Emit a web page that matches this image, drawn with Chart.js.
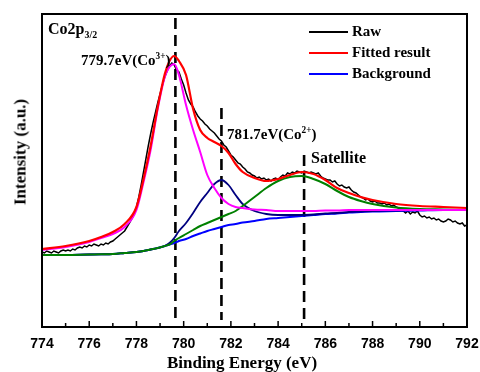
<!DOCTYPE html>
<html>
<head>
<meta charset="utf-8">
<script src="https://cdn.jsdelivr.net/npm/chart.js@4.4.1/dist/chart.umd.min.js"></script>
<style>
  body { margin: 0; background: #fff; }
  #wrap { position: relative; width: 480px; height: 372px; }
  .lbl { position: absolute; font-family: "Liberation Serif", "Times New Roman", serif; font-weight: bold; color: #000; white-space: nowrap; line-height: 1; }
  .lbl sup, .lbl sub { font-size: 62%; line-height: 0; }
  .leg { position: absolute; width: 39px; height: 0; border-top: 2.5px solid; }
</style>
</head>
<body>
<div id="wrap">
  <canvas id="grafico" width="480" height="372"></canvas>

  <div class="lbl" style="left:48px; top:21px; font-size:16px;">Co2p<sub>3/2</sub></div>
  <div class="lbl" style="left:81px; top:53px; font-size:15px;">779.7eV(Co<sup>3+</sup>)</div>
  <div class="lbl" style="left:227px; top:127px; font-size:15px;">781.7eV(Co<sup>2+</sup>)</div>
  <div class="lbl" style="left:311px; top:150px; font-size:16px;">Satellite</div>

  <div class="leg" style="left:309px; top:31px; border-color:#000;"></div>
  <div class="leg" style="left:309px; top:52px; border-color:#ff0000;"></div>
  <div class="leg" style="left:309px; top:73px; border-color:#0000ff;"></div>
  <div class="lbl" style="left:352px; top:24px; font-size:15px;">Raw</div>
  <div class="lbl" style="left:352px; top:45px; font-size:15px;">Fitted result</div>
  <div class="lbl" style="left:352px; top:66px; font-size:15px;">Background</div>

  <div class="lbl" style="left:242px; top:354px; font-size:17px; transform:translateX(-50%);">Binding Energy (eV)</div>
  <div class="lbl" style="left:20px; top:152px; font-size:17px; transform:translate(-50%,-50%) rotate(-90deg);">Intensity (a.u.)</div>
</div>

<script>
// espectro bruto, passo de 0.1 eV a partir de 774 eV
const rawStart = 774;
const rawStep = 0.1;
const rawIntensity = [
  75, 74, 76, 75, 74, 76, 75, 74, 76, 77,
  76, 77, 76, 78, 77, 79, 80, 79, 81, 80,
  82, 81, 83, 82, 81, 83, 82, 84, 83, 85,
  86, 88, 90, 92, 94, 96, 100, 104, 108, 113,
  120, 130, 142, 155, 168, 181, 193, 204, 214, 224,
  233, 242, 250, 256, 261, 264, 262, 257, 255, 248,
  242, 234, 227, 223, 220, 215, 211, 208, 206, 203,
  201, 198, 196, 194, 191, 188, 186, 182, 180, 176,
  172, 170, 167, 164, 163, 160, 158, 155, 154, 152,
  151, 149, 150, 148, 149, 147, 148, 146, 148, 149,
  147, 150, 152, 151, 154, 153, 155, 154, 156, 155,
  154, 156, 155, 154, 155, 154, 153, 154, 151, 149,
  148, 147, 147, 145, 146, 143, 141, 142, 140, 139,
  140, 137, 135, 134, 132, 130, 129, 127, 128, 126,
  125, 126, 124, 124, 123, 124, 122, 123, 121, 122,
  120, 119, 117, 116, 114, 116, 113, 115, 114, 116,
  112, 110, 111, 109, 110, 108, 109, 107, 108, 106,
  105, 106, 108, 107, 105, 106, 104, 103, 104, 101,
  102
];

// curvas ajustadas
const fitEnergy = [774, 775, 776, 776.5, 777, 777.5, 778, 778.3, 778.6, 778.9,
  779.2, 779.4, 779.6, 779.8, 780.1, 780.4, 780.7, 781, 781.3, 781.6,
  781.9, 782.2, 782.5, 783, 783.5, 784, 784.5, 785, 785.5, 786,
  786.5, 787, 787.5, 788, 789, 790, 791, 792];
const fitted = [78, 81, 86, 90, 95, 103, 120, 148, 181, 220,
  253, 266, 271, 266, 252, 218, 197, 189, 185, 181,
  174, 163, 155, 149, 146, 148, 152, 155, 153, 147,
  139, 134, 130, 127, 123, 121, 120, 119];
const co3Peak = [77, 80, 85, 89, 93, 100, 117, 145, 177, 218,
  250, 260, 263, 252, 222, 197, 175, 152, 139, 129,
  123, 120, 119, 117.5, 117, 116, 116, 116, 116, 116.5,
  116.5, 117, 117, 117, 117, 117, 117, 117];
const co2Peak = [72, 72, 72.5, 72.7, 73, 74, 75, 76, 77.5, 79,
  81, 84, 89, 96, 104, 114, 125, 134, 143, 147,
  142, 132, 123, 116, 113, 112, 112, 112, 112.5, 113.5,
  114, 115, 115.5, 116, 116.5, 117, 117, 117];
const satellitePeak = [72, 72, 72.5, 72.7, 73, 74, 75, 76, 77.5, 79,
  81, 82.5, 86, 89, 93, 97, 101, 104, 107, 110,
  113, 116, 121, 130, 139, 146, 150, 151, 148, 143,
  136, 130, 126, 123, 119.5, 118, 117.5, 117];
const background = [72, 72, 72.5, 72.7, 73, 74, 75, 76, 77.5, 79,
  81, 82.5, 84, 86, 88, 91, 93.5, 96, 98, 100,
  102, 103, 104.5, 106, 108, 109, 110, 111, 112, 113,
  113.5, 114.5, 115, 115.5, 116, 116.5, 117, 117];

// linhas tracejadas (posição do pico e altura do topo)
const markerEnergy = [779.65, 781.6, 785.1];
const markerTop = [309, 219, 172];
const markerBottom = 7;

const xy = (xs, ys) => xs.map((x, i) => ({ x: x, y: ys[i] }));
const rawPoints = rawIntensity.map((v, i) => ({ x: rawStart + i * rawStep, y: v }));

function curva(data, cor, largura) {
    return {
        data: data,
        borderColor: cor,
        borderWidth: largura,
        pointRadius: 0,
        fill: false,
        cubicInterpolationMode: 'monotone'
    };
}

const datasets = [
    curva(xy(fitEnergy, fitted), '#ff0000', 2.2),
    curva(xy(fitEnergy, co3Peak), '#ff00ff', 2),
    curva(xy(fitEnergy, satellitePeak), '#008000', 2),
    curva(xy(fitEnergy, co2Peak), '#000080', 1.8),
    curva(xy(fitEnergy, background), '#0000ff', 2),
    { data: rawPoints, borderColor: '#000', borderWidth: 1.5, pointRadius: 0, tension: 0 }
];

markerEnergy.forEach((e, i) => {
    datasets.push({
        data: [{ x: e, y: markerTop[i] }, { x: e, y: markerBottom }],
        borderColor: '#000',
        borderWidth: 2.6,
        borderDash: [11, 6],
        pointRadius: 0
    });
});

// moldura e ticks para dentro
const moldura = {
    id: 'moldura',
    afterDraw(chart) {
        const { ctx, chartArea: a, scales } = chart;
        ctx.save();
        ctx.strokeStyle = '#000';
        ctx.lineWidth = 2;
        ctx.strokeRect(a.left, a.top, a.right - a.left, a.bottom - a.top);
        ctx.lineWidth = 1.5;
        for (let v = 774; v <= 792; v++) {
            const px = scales.x.getPixelForValue(v);
            const len = v % 2 === 0 ? 6 : 4;
            ctx.beginPath();
            ctx.moveTo(px, a.bottom);
            ctx.lineTo(px, a.bottom - len);
            ctx.stroke();
        }
        ctx.restore();
    }
};

new Chart(document.getElementById('grafico').getContext('2d'), {
    type: 'line',
    data: { datasets: datasets },
    options: {
        responsive: false,
        animation: false,
        devicePixelRatio: 1,
        layout: { padding: { top: 14, right: 13, left: 0, bottom: 0 } },
        plugins: { legend: { display: false }, tooltip: { enabled: false } },
        scales: {
            x: {
                type: 'linear',
                min: 774,
                max: 792,
                grid: { display: false },
                border: { display: false },
                ticks: {
                    stepSize: 2,
                    padding: 1,
                    color: '#000',
                    font: { family: '"Liberation Sans", Arial, sans-serif', size: 14, weight: 'bold' }
                },
                afterFit: s => { s.height = 45; s.paddingLeft = 0; s.paddingRight = 0; }
            },
            y: {
                min: 0,
                max: 313,
                grid: { display: false },
                border: { display: false },
                ticks: { display: false },
                afterFit: s => { s.width = 42; }
            }
        }
    },
    plugins: [moldura]
});
</script>
</body>
</html>
